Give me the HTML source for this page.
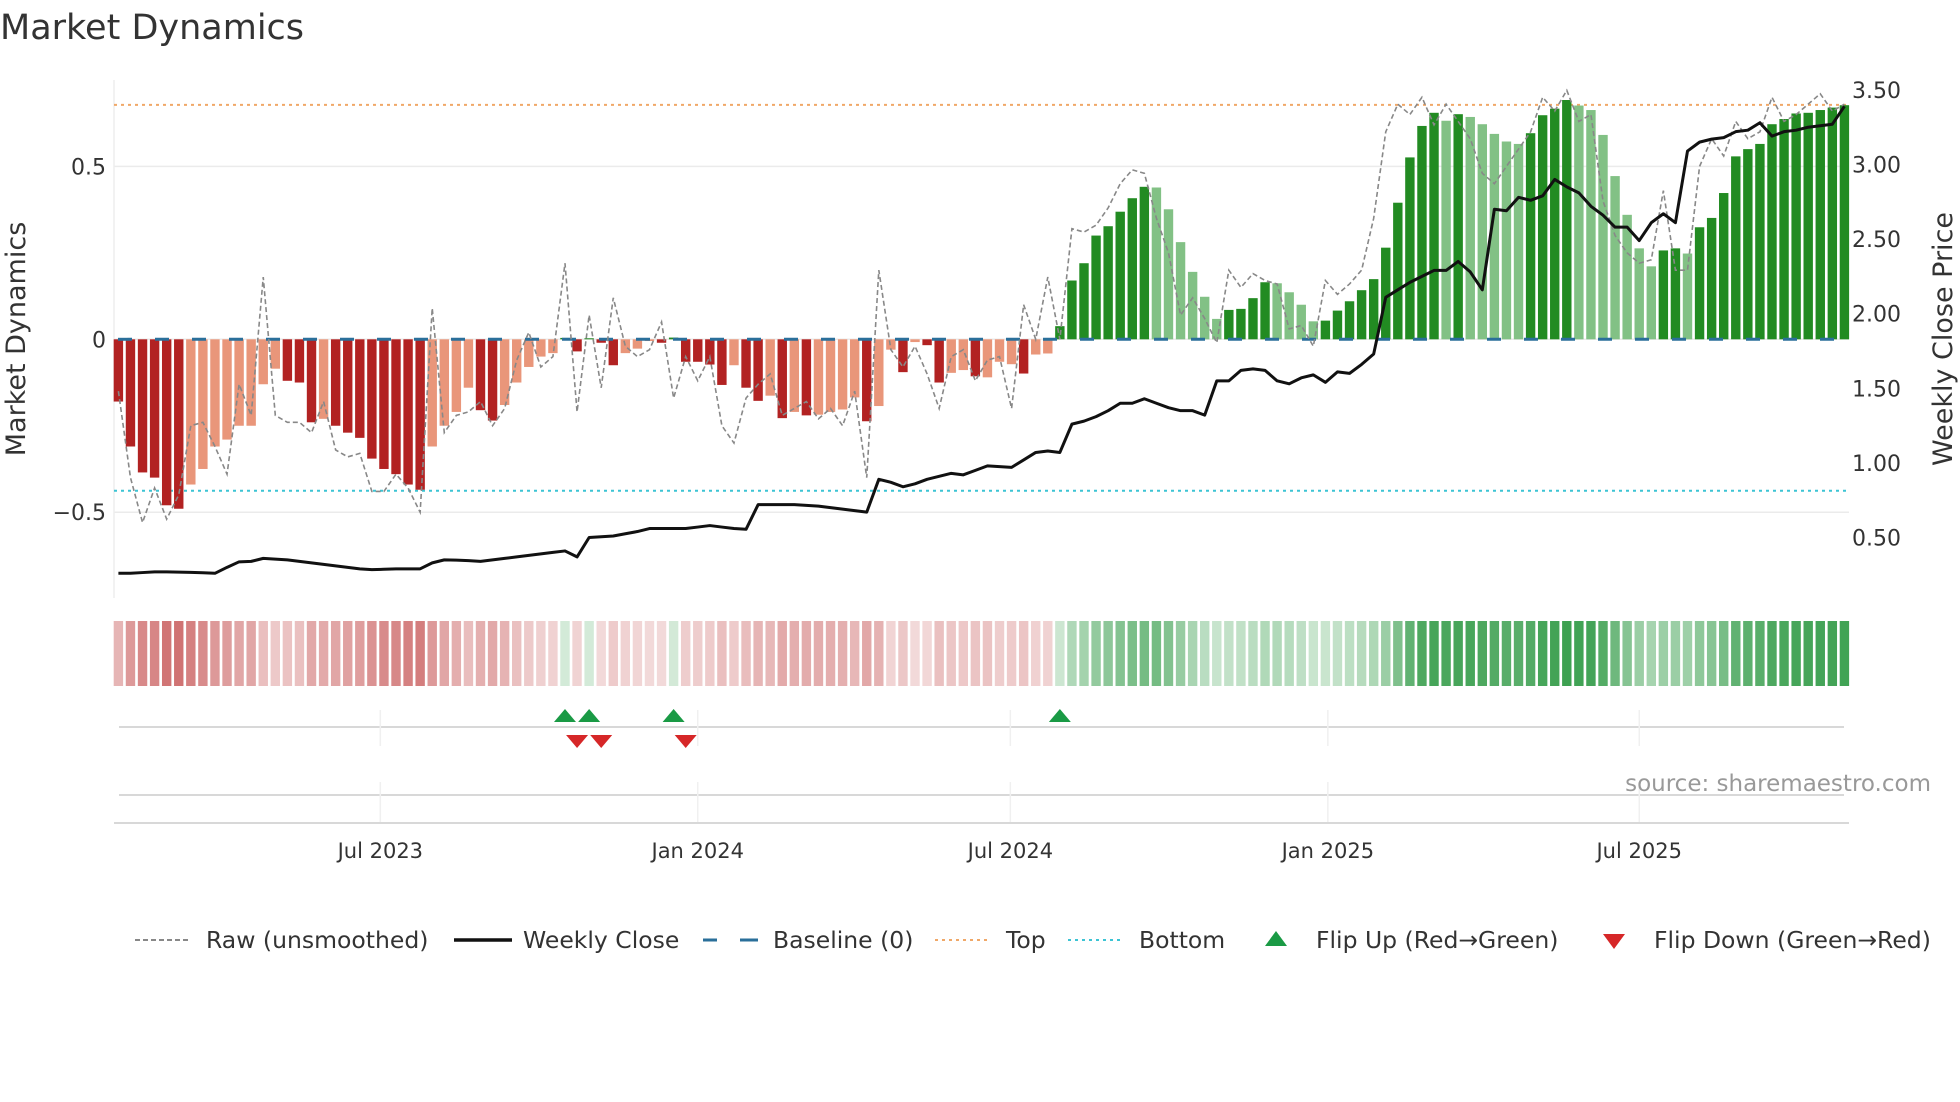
<!DOCTYPE html>
<html><head><meta charset="utf-8"><style>
html,body{margin:0;padding:0;background:#fff;}
svg{display:block;font-family:"DejaVu Sans","Liberation Sans",sans-serif;}
</style></head><body>
<svg id="chart" width="1960" height="1102" viewBox="0 0 1960 1102" xmlns="http://www.w3.org/2000/svg">
<text x="0" y="39" font-size="35" fill="#333">Market Dynamics</text>
<g id="main"></g>
</svg>
<script>
const dyn = [-0.18,-0.31,-0.385,-0.40,-0.48,-0.49,-0.42,-0.375,-0.31,-0.29,-0.25,-0.25,-0.13,-0.085,-0.12,-0.125,-0.24,-0.23,-0.25,-0.27,-0.285,-0.345,-0.375,-0.39,-0.42,-0.435,-0.31,-0.25,-0.21,-0.14,-0.205,-0.235,-0.19,-0.125,-0.08,-0.05,-0.04,0.004,-0.035,0.003,-0.01,-0.075,-0.04,-0.027,-0.005,-0.01,0.005,-0.065,-0.065,-0.073,-0.132,-0.075,-0.14,-0.178,-0.163,-0.228,-0.21,-0.22,-0.218,-0.21,-0.203,-0.168,-0.237,-0.193,-0.03,-0.095,-0.008,-0.017,-0.125,-0.097,-0.089,-0.107,-0.11,-0.065,-0.072,-0.099,-0.044,-0.041,0.038,0.17,0.22,0.30,0.327,0.369,0.408,0.441,0.439,0.376,0.281,0.195,0.123,0.059,0.085,0.088,0.119,0.165,0.162,0.136,0.10,0.052,0.054,0.083,0.11,0.142,0.174,0.265,0.395,0.526,0.617,0.655,0.632,0.651,0.643,0.622,0.594,0.572,0.565,0.596,0.648,0.667,0.692,0.676,0.663,0.591,0.472,0.36,0.263,0.211,0.257,0.263,0.248,0.324,0.351,0.423,0.529,0.55,0.565,0.622,0.637,0.653,0.655,0.663,0.67,0.677];
const strong = [1,1,1,1,1,1,0,0,0,0,0,0,0,0,1,1,1,0,1,1,1,1,1,1,1,1,0,0,0,0,1,1,0,0,0,0,0,1,1,1,1,1,0,0,0,1,1,1,1,1,1,0,1,1,0,1,0,1,0,0,0,0,1,0,0,1,0,1,1,0,0,1,0,0,0,1,0,0,1,1,1,1,1,1,1,1,0,0,0,0,0,0,1,1,1,1,0,0,0,0,1,1,1,1,1,1,1,1,1,1,0,1,0,0,0,0,0,1,1,1,1,0,0,0,0,0,0,0,1,1,0,1,1,1,1,1,1,1,1,1,1,1,1,1];
const raw = [-0.15,-0.4,-0.53,-0.43,-0.52,-0.45,-0.25,-0.24,-0.31,-0.39,-0.13,-0.22,0.18,-0.22,-0.24,-0.24,-0.27,-0.18,-0.32,-0.34,-0.33,-0.44,-0.44,-0.39,-0.43,-0.5,0.09,-0.27,-0.22,-0.21,-0.18,-0.25,-0.2,-0.06,0.02,-0.08,-0.05,0.22,-0.21,0.07,-0.14,0.12,-0.02,-0.05,-0.03,0.05,-0.17,-0.05,-0.12,-0.05,-0.25,-0.3,-0.17,-0.13,-0.1,-0.22,-0.2,-0.18,-0.23,-0.2,-0.25,-0.15,-0.4,0.2,-0.03,-0.08,-0.02,-0.1,-0.2,-0.05,-0.03,-0.12,-0.06,-0.05,-0.2,0.1,0.0,0.18,0.0,0.32,0.31,0.33,0.38,0.45,0.49,0.48,0.35,0.25,0.07,0.12,0.06,-0.01,0.2,0.15,0.19,0.17,0.16,0.03,0.04,-0.02,0.17,0.13,0.16,0.2,0.35,0.6,0.68,0.65,0.7,0.62,0.68,0.63,0.58,0.48,0.45,0.5,0.55,0.6,0.7,0.66,0.72,0.63,0.65,0.4,0.3,0.25,0.22,0.23,0.43,0.2,0.2,0.5,0.58,0.53,0.63,0.58,0.6,0.7,0.63,0.65,0.68,0.71,0.66,0.68];
const price = [0.26,0.26,0.265,0.27,0.27,0.268,0.266,0.264,0.26,0.3,0.337,0.34,0.36,0.355,0.35,0.34,0.33,0.32,0.31,0.30,0.29,0.285,0.287,0.29,0.29,0.29,0.33,0.35,0.348,0.345,0.34,0.35,0.36,0.37,0.38,0.39,0.40,0.41,0.37,0.50,0.505,0.51,0.525,0.54,0.56,0.56,0.56,0.56,0.57,0.58,0.57,0.56,0.555,0.72,0.72,0.72,0.72,0.715,0.71,0.70,0.69,0.68,0.67,0.89,0.87,0.84,0.86,0.89,0.91,0.93,0.92,0.95,0.98,0.975,0.97,1.02,1.07,1.08,1.07,1.26,1.28,1.31,1.35,1.40,1.40,1.43,1.40,1.37,1.35,1.35,1.32,1.55,1.55,1.62,1.63,1.62,1.55,1.53,1.57,1.59,1.54,1.61,1.60,1.66,1.73,2.11,2.16,2.21,2.25,2.29,2.29,2.35,2.28,2.16,2.70,2.69,2.78,2.76,2.79,2.90,2.85,2.81,2.72,2.66,2.58,2.58,2.49,2.61,2.67,2.61,3.09,3.15,3.17,3.18,3.22,3.23,3.28,3.19,3.22,3.23,3.25,3.26,3.27,3.39];
const flipUp = [37,39,46,78];
const flipDown = [38,40,47];
const tickPos = [21.7,48.0,73.9,100.2,126.0];
const tickLabels = ["Jul 2023","Jan 2024","Jul 2024","Jan 2025","Jul 2025"];
const leftTicks = [0.5,0,-0.5];
const leftLabels = ["0.5","0","\u22120.5"];
const rightTicks = [3.5,3.0,2.5,2.0,1.5,1.0,0.5];
const topLevel = 0.678, bottomLevel = -0.438;

const NS="http://www.w3.org/2000/svg";
const g=document.getElementById('main');
function el(t,a,parent){const e=document.createElementNS(NS,t);for(const k in a)e.setAttribute(k,a[k]);(parent||g).appendChild(e);return e;}
const X0=114,X1=1849;
const xs=k=>118.4+k*12.07;
const yL=v=>339.3-v*345.8;
const yR=p=>537.5-(p-0.5)*149.2;

leftTicks.forEach((t,i)=>{
  let ln=el('line',{x1:X0,x2:X1,y1:yL(t),y2:yL(t),stroke:'#ebebeb','stroke-width':1.5});
  
  
  let tx=el('text',{x:106,y:yL(t)+8,'text-anchor':'end','font-size':22,fill:'#333'});
  tx.textContent=leftLabels[i];
  
  
});
let sp=el('line',{x1:X0,x2:X0,y1:80,y2:598,stroke:'#eee','stroke-width':1.5});


rightTicks.forEach(t=>{
  let tx=el('text',{x:1852,y:yR(t)+8,'font-size':22,fill:'#333'});
  tx.textContent=t.toFixed(2);
  
  
});
let lt=el('text',{x:0,y:0,'font-size':27,fill:'#333','text-anchor':'middle',transform:'translate(25,339) rotate(-90)'});
lt.textContent='Market Dynamics';


let rt=el('text',{x:0,y:0,'font-size':27,fill:'#333','text-anchor':'middle',transform:'translate(1952,339) rotate(-90)'});
rt.textContent='Weekly Close Price';



let tl=el('line',{x1:X0,x2:X1,y1:yL(topLevel),y2:yL(topLevel),stroke:'#f0a868','stroke-width':2,'stroke-dasharray':'3,4'});


let bl=el('line',{x1:X0,x2:X1,y1:yL(bottomLevel),y2:yL(bottomLevel),stroke:'#3cc4d4','stroke-width':2,'stroke-dasharray':'3,4'});



dyn.forEach((v,k)=>{
  const pos=v>=0;
  const c=pos?(strong[k]?'#228b22':'#82c185'):(strong[k]?'#b22222':'#e9967a');
  const y=Math.min(yL(0),yL(v)),h=Math.max(0.8,Math.abs(yL(v)-yL(0)));
  let r=el('rect',{x:xs(k)-4.7,y:y,width:9.4,height:h,fill:c});
  
  
  const a=Math.min(1,0.22+0.78*Math.abs(v)/0.7);
  const sc=pos?`rgba(60,160,80,${a})`:`rgba(200,90,90,${Math.min(1,0.22+0.9*Math.abs(v)/0.7)})`;
  let s=el('rect',{x:xs(k)-4.7,y:621,width:9.4,height:65,fill:sc});
  
  
});
let base=el('line',{x1:X0+4,x2:X1-10,y1:yL(0),y2:yL(0),stroke:'#2a6f9a','stroke-width':3,'stroke-dasharray':'14,23'});



let rp=el('polyline',{points:raw.map((v,k)=>xs(k)+','+yL(v)).join(' '),fill:'none',stroke:'#888','stroke-width':1.6,'stroke-dasharray':'5,3'});


let pp=el('polyline',{points:price.map((v,k)=>xs(k)+','+yR(v)).join(' '),fill:'none',stroke:'#111','stroke-width':3,'stroke-linejoin':'round'});



[727,795].forEach(y=>{
  let l=el('line',{x1:119,x2:1844,y1:y,y2:y,stroke:'#ccc','stroke-width':1.5});
  
  
});
let ax=el('line',{x1:X0,x2:X1,y1:823,y2:823,stroke:'#ccc','stroke-width':1.5});


tickPos.forEach((t,i)=>{
  const x=xs(t);
  let v1=el('line',{x1:x,x2:x,y1:710,y2:746,stroke:'#f0f0f0','stroke-width':1.5});
  
  
  let v2=el('line',{x1:x,x2:x,y1:782,y2:822,stroke:'#f0f0f0','stroke-width':1.5});
  
  
  let tx=el('text',{x:x,y:858,'text-anchor':'middle','font-size':21,fill:'#333'});
  tx.textContent=tickLabels[i];
  
  
});
flipUp.forEach(k=>{
  const x=xs(k);
  let p=el('polygon',{points:`${x-11},722 ${x+11},722 ${x},709`,fill:'#1a9a45'});
  
  
});
flipDown.forEach(k=>{
  const x=xs(k);
  let p=el('polygon',{points:`${x-11},735 ${x+11},735 ${x},748`,fill:'#d62728'});
  
  
});
let src=el('text',{x:1931,y:791,'text-anchor':'end','font-size':23,fill:'#999'});
src.textContent='source: sharemaestro.com';



const LY=940;
function lt2(x,txt,name){let t=el('text',{x:x,y:LY+8,'font-size':23.5,fill:'#333'});t.textContent=txt;}
let l1=el('line',{x1:135,x2:191,y1:LY,y2:LY,stroke:'#888','stroke-width':2,'stroke-dasharray':'5,3'});

lt2(206,'Raw (unsmoothed)','legend-raw-label');
let l2=el('line',{x1:454,x2:512,y1:LY,y2:LY,stroke:'#111','stroke-width':3.5});

lt2(523,'Weekly Close','legend-close-label');
let l3=el('line',{x1:703,x2:758,y1:LY,y2:LY,stroke:'#2a6f9a','stroke-width':3,'stroke-dasharray':'14,23'});

let l3b=el('line',{x1:740,x2:758,y1:LY,y2:LY,stroke:'#2a6f9a','stroke-width':3});

lt2(773,'Baseline (0)','legend-baseline-label');
let l4=el('line',{x1:935,x2:990,y1:LY,y2:LY,stroke:'#f0a868','stroke-width':2,'stroke-dasharray':'3,4'});

lt2(1006,'Top','legend-top-label');
let l5=el('line',{x1:1068,x2:1124,y1:LY,y2:LY,stroke:'#3cc4d4','stroke-width':2,'stroke-dasharray':'3,4'});

lt2(1139,'Bottom','legend-bottom-label');
let l6=el('polygon',{points:'1265,946 1287,946 1276,931',fill:'#1a9a45'});

lt2(1316,'Flip Up (Red\u2192Green)','legend-flip-up-label');
let l7=el('polygon',{points:'1603,934 1625,934 1614,949',fill:'#d62728'});

lt2(1654,'Flip Down (Green\u2192Red)','legend-flip-down-label');
</script>
</body></html>
